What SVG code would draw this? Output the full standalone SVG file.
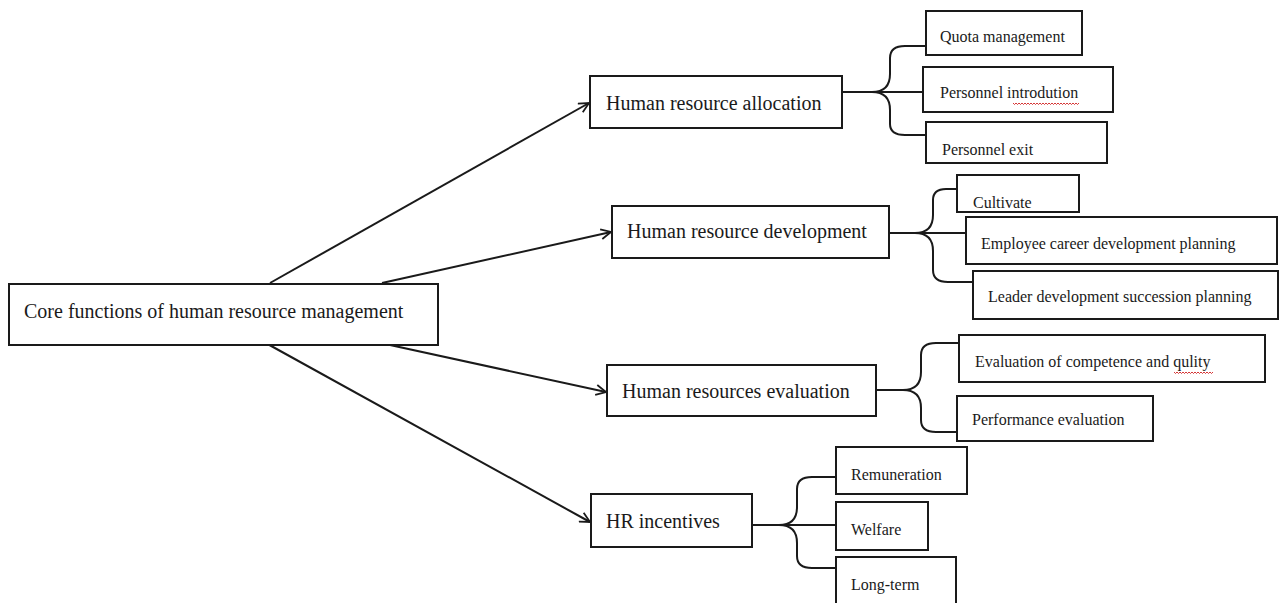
<svg xmlns="http://www.w3.org/2000/svg" width="1279" height="603" viewBox="0 0 1279 603">
<defs>
<style>
.box{fill:#fff;stroke:#1a1a1a;stroke-width:2}
.t{font-family:"Liberation Serif","Times New Roman",serif;fill:#1a1a1a}
.main{font-size:20px}
.sub{font-size:16px}
.ln{fill:none;stroke:#1a1a1a;stroke-width:2}
.sq{fill:none;stroke:#d02020;stroke-width:0.9}
</style>
<marker id="arr" viewBox="0 0 12 12" refX="11" refY="6" markerWidth="12" markerHeight="12" markerUnits="userSpaceOnUse" orient="auto">
<path d="M1,1 L11,6 L1,11" fill="none" stroke="#1a1a1a" stroke-width="1.8"/>
</marker>
</defs>
<rect width="1279" height="603" fill="#fff"/>

<g id="connectors">
<line class="ln" x1="270" y1="283" x2="589" y2="103" marker-end="url(#arr)"/>
<line class="ln" x1="382" y1="283" x2="611" y2="232" marker-end="url(#arr)"/>
<line class="ln" x1="390" y1="345" x2="606" y2="392" marker-end="url(#arr)"/>
<line class="ln" x1="264" y1="342" x2="590" y2="522" marker-end="url(#arr)"/>
<path class="ln" d="M842,92 L872,92 Q890,92 890,74 L890,58 Q890,46 905,46 L926,46 M872,92 L923,92 M872,92 Q890,92 890,110 L890,124 Q890,135 905,135 L926,135"/>
<path class="ln" d="M889,233 L915,233 Q933,233 933,215 L933,200 Q933,189 946,189 L957,189 M915,233 L966,233 M915,233 Q933,233 933,251 L933,270 Q933,282 948,282 L973,282"/>
<path class="ln" d="M876,390 L903,390 Q921,390 921,372 L921,355 Q921,343 936,343 L959,343 M903,390 Q921,390 921,408 L921,420 Q921,432 936,432 L957,432"/>
<path class="ln" d="M752,525 L779,525 Q797,525 797,507 L797,489 Q797,477 812,477 L836,477 M779,525 L836,525 M779,525 Q797,525 797,543 L797,556 Q797,568 812,568 L836,568"/>
</g>

<g id="root">
<rect class="box" x="9" y="284" width="429" height="61"/>
<text class="t main" x="24" y="318">Core functions of human resource management</text>
</g>

<g id="allocation">
<rect class="box" x="590" y="76" width="252" height="52"/>
<text class="t main" x="606" y="110">Human resource allocation</text>
</g>
<g id="quota">
<rect class="box" x="926" y="11" width="156" height="44"/>
<text class="t sub" x="940" y="42">Quota management</text>
</g>
<g id="introduction">
<rect class="box" x="923" y="67" width="190" height="45"/>
<text class="t sub" x="940" y="98">Personnel introdution</text>
<path class="sq" d="M1013,103 l1.5,1.5 l1.5,-1.5 l1.5,1.5 l1.5,-1.5 l1.5,1.5 l1.5,-1.5 l1.5,1.5 l1.5,-1.5 l1.5,1.5 l1.5,-1.5 l1.5,1.5 l1.5,-1.5 l1.5,1.5 l1.5,-1.5 l1.5,1.5 l1.5,-1.5 l1.5,1.5 l1.5,-1.5 l1.5,1.5 l1.5,-1.5 l1.5,1.5 l1.5,-1.5 l1.5,1.5 l1.5,-1.5 l1.5,1.5 l1.5,-1.5 l1.5,1.5 l1.5,-1.5 l1.5,1.5 l1.5,-1.5 l1.5,1.5 l1.5,-1.5 l1.5,1.5 l1.5,-1.5 l1.5,1.5 l1.5,-1.5 l1.5,1.5 l1.5,-1.5 l1.5,1.5 l1.5,-1.5 l1.5,1.5 l1.5,-1.5 l1.5,1.5 l1.5,-1.5"/>
</g>
<g id="exit">
<rect class="box" x="926" y="122" width="181" height="41"/>
<text class="t sub" x="942" y="155">Personnel exit</text>
</g>

<g id="development">
<rect class="box" x="612" y="206" width="277" height="52"/>
<text class="t main" x="627" y="238">Human resource development</text>
</g>
<g id="cultivate">
<rect class="box" x="957" y="175" width="122" height="37"/>
<text class="t sub" x="973" y="208">Cultivate</text>
</g>
<g id="career">
<rect class="box" x="966" y="217" width="311" height="47"/>
<text class="t sub" x="981" y="249">Employee career development planning</text>
</g>
<g id="succession">
<rect class="box" x="973" y="271" width="305" height="48"/>
<text class="t sub" x="988" y="302">Leader development succession planning</text>
</g>

<g id="evaluation">
<rect class="box" x="607" y="365" width="269" height="51"/>
<text class="t main" x="622" y="398">Human resources evaluation</text>
</g>
<g id="competence">
<rect class="box" x="959" y="335" width="306" height="47"/>
<text class="t sub" x="975" y="367">Evaluation of competence and qulity</text>
<path class="sq" d="M1174,372 l1.5,1.5 l1.5,-1.5 l1.5,1.5 l1.5,-1.5 l1.5,1.5 l1.5,-1.5 l1.5,1.5 l1.5,-1.5 l1.5,1.5 l1.5,-1.5 l1.5,1.5 l1.5,-1.5 l1.5,1.5 l1.5,-1.5 l1.5,1.5 l1.5,-1.5 l1.5,1.5 l1.5,-1.5 l1.5,1.5 l1.5,-1.5 l1.5,1.5 l1.5,-1.5 l1.5,1.5 l1.5,-1.5 l1.5,1.5 l1.5,-1.5"/>
</g>
<g id="performance">
<rect class="box" x="957" y="396" width="196" height="45"/>
<text class="t sub" x="972" y="425">Performance evaluation</text>
</g>

<g id="incentives">
<rect class="box" x="591" y="494" width="161" height="53"/>
<text class="t main" x="606" y="528">HR incentives</text>
</g>
<g id="remuneration">
<rect class="box" x="836" y="447" width="131" height="47"/>
<text class="t sub" x="851" y="480">Remuneration</text>
</g>
<g id="welfare">
<rect class="box" x="836" y="502" width="92" height="48"/>
<text class="t sub" x="851" y="535">Welfare</text>
</g>
<g id="longterm">
<rect class="box" x="836" y="557" width="120" height="50"/>
<text class="t sub" x="851" y="590">Long-term</text>
</g>
</svg>
